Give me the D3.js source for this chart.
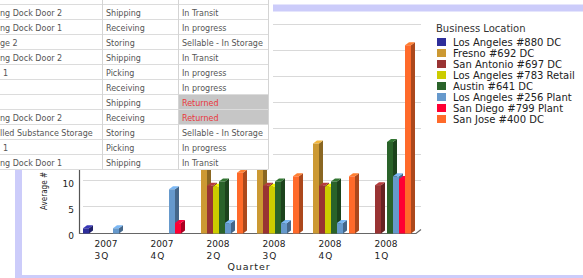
<!DOCTYPE html>
<html><head><meta charset="utf-8">
<script src="https://cdn.jsdelivr.net/npm/d3@7"></script>
<style>
html,body{margin:0;padding:0;background:#fff;}
svg{display:block;}
</style></head>
<body>
<svg id="c" width="583" height="278"></svg>
<script>
// ---- data ----
const years = ["2007", "2007", "2008", "2008", "2008", "2008"];
const quarters = ["3Q", "4Q", "2Q", "3Q", "4Q", "1Q"];
const seriesNames = ["Los Angeles #880 DC", "Fresno #692 DC", "San Antonio #697 DC", "Los Angeles #783 Retail",
  "Austin #641 DC", "Los Angeles #256 Plant", "San Diego #799 Plant", "San Jose #400 DC"];
const seriesColors = ["#2e2e9a", "#cc9933", "#993333", "#cccc00", "#2a632a", "#6699cc", "#ff0033", "#ff6a2a"];
const la880 = [1, null, null, null, null, null];
const fresno = [null, null, 19, 18, 17.3, null];
const sanAntonio = [null, null, 9.2, 9.2, 9.2, 9.3];
const la783 = [null, null, 9, 9, 9, null];
const austin = [null, null, 10, 10, 10, 17.6];
const la256 = [1, 8.5, 2, 2, 2, 11];
const sanDiego = [null, 2, null, null, null, 10.5];
const sanJose = [null, null, 11.7, 11, 11, 36.2];
const seriesValues = [la880, fresno, sanAntonio, la783, austin, la256, sanDiego, sanJose];
const yTicks = [0, 5, 10, 15, 20, 25, 30, 35, 40];
const legendTitle = "Business Location";
const yTitle = "Average #";
const xTitle = "Quarter";
// overlapping table (visible parts)
const tableCol1 = ["ng Dock Door 2", "ng Dock Door 1", "ge 2", "ng Dock Door 2", "1", "", "", "ng Dock Door 2",
  "lled Substance Storage", "1", "ng Dock Door 1"];
const tableCol2 = ["Shipping", "Receiving", "Storing", "Shipping", "Picking", "Receiving", "Shipping",
  "Receiving", "Storing", "Picking", "Shipping"];
const tableCol3 = ["In Transit", "In progress", "Sellable - In Storage", "In Transit", "In progress",
  "In progress", "Returned", "Returned", "Sellable - In Storage", "In progress", "In Transit"];

// ---- chart ----
const svg = d3.select("#c");
const font = "DejaVu Sans, Verdana, sans-serif";
const cats = years.map((y, i) => i);
const tableBottom = 169.5;

// panel border
svg.append("rect").attr("x", 18.5).attr("y", 8).attr("width", 700).attr("height", 270.5)
  .attr("fill", "#fff").attr("stroke", "#ccccfa").attr("stroke-width", 7);

const y = d3.scaleLinear().domain([0, 40]).range([233.5, 25.5]);
const x0 = d3.scaleBand().domain(cats).range([79, 415]).paddingInner(8 / 56).paddingOuter(4 / 56);
const x1 = d3.scaleBand().domain(seriesNames).range([0, x0.bandwidth()]);
const dx = 4, dy = 3, bw = 6;

// gridlines (back wall)
svg.append("g").selectAll("line").data(yTicks.filter(t => t > 0)).join("line")
  .attr("x1", 79 + dx).attr("x2", 421).attr("y1", d => Math.round(y(d)) - 0.5 - dy + 2).attr("y2", d => Math.round(y(d)) - 0.5 - dy + 2)
  .attr("stroke", "#d9d9d9").attr("stroke-width", 1);

// axes
svg.append("line").attr("x1", 79.5).attr("x2", 79.5).attr("y1", y(40)).attr("y2", y(0) + 0.5)
  .attr("stroke", "#555").attr("stroke-width", 1.2);
svg.append("path").attr("d", `M79,${y(0)}H416L421,${y(0) - 4}`)
  .attr("fill", "none").attr("stroke", "#666").attr("stroke-width", 1.2);

// y tick labels (those under the overlapping table are covered, so only visible ones are drawn)
svg.append("g").selectAll("text").data(yTicks.filter(t => y(t) > tableBottom)).join("text")
  .attr("x", 74).attr("y", d => y(d) + 5.5).attr("text-anchor", "end")
  .attr("font-family", font).attr("font-size", 9).attr("fill", "#222").text(d => d);

// bars (3D)
const flat = [];
seriesNames.forEach((s, si) => seriesValues[si].forEach((v, ci) => { if (v != null) flat.push({ s, si, ci, v }); }));
const bars = svg.append("g").selectAll("g").data(flat).join("g");
bars.each(function (d) {
  const g = d3.select(this);
  const xl = x0(d.ci) + x1(d.s);
  const yt = y(d.v), yb = y(0);
  const c = d3.color(seriesColors[d.si]);
  g.append("path").attr("d", `M${xl + bw},${yt}L${xl + bw + dx},${yt - dy}L${xl + bw + dx},${yb - dy}L${xl + bw},${yb}Z`)
    .attr("fill", c.darker(1.1));
  g.append("path").attr("d", `M${xl},${yt}L${xl + dx},${yt - dy}L${xl + bw + dx},${yt - dy}L${xl + bw},${yt}Z`)
    .attr("fill", c.brighter(0.5));
  g.append("rect").attr("x", xl).attr("y", yt).attr("width", bw).attr("height", yb - yt).attr("fill", c);
});

// x labels
const xl = svg.append("g");
cats.forEach(i => {
  const cx = x0(i) + x0.bandwidth() / 2 - 1;
  const t1 = xl.append("text").attr("x", cx).attr("y", 247).attr("text-anchor", "middle")
    .attr("font-family", font).attr("font-size", 9).attr("fill", "#222").text(years[i]);
  const w = t1.node().getComputedTextLength();
  xl.append("text").attr("x", cx - w / 2).attr("y", 259)
    .attr("font-family", font).attr("font-size", 9).attr("fill", "#222").attr("letter-spacing", 1).text(quarters[i]);
});
svg.append("text").attr("x", 249).attr("y", 270).attr("text-anchor", "middle")
  .attr("font-family", font).attr("font-size", 9.5).attr("letter-spacing", 0.9).attr("fill", "#222").text(xTitle);
svg.append("text").attr("transform", "translate(47,191) rotate(-90)").attr("text-anchor", "middle")
  .attr("font-family", font).attr("font-size", 9).attr("textLength", 38).attr("lengthAdjust", "spacingAndGlyphs")
  .attr("fill", "#222").text(yTitle);

// legend
const lg = svg.append("g");
lg.append("text").attr("x", 436).attr("y", 32).attr("font-family", font).attr("font-size", 10)
  .attr("fill", "#333").text(legendTitle);
seriesNames.forEach((s, i) => {
  const cy = 42 + i * 11;
  lg.append("rect").attr("x", 437).attr("y", cy - 4).attr("width", 9).attr("height", 8).attr("fill", seriesColors[i]);
  lg.append("text").attr("x", 453).attr("y", cy + 4).attr("font-family", font).attr("font-size", 10)
    .attr("fill", "#222").text(s);
});

// ---- overlapping table ----
const tb = svg.append("g");
const rowTop = i => 4 + i * 15;
tb.append("rect").attr("x", 0).attr("y", 0).attr("width", 273).attr("height", tableBottom).attr("fill", "#fff");
tb.append("rect").attr("x", 178).attr("y", rowTop(6)).attr("width", 90).attr("height", 30).attr("fill", "#c6c6c6");
tableCol1.forEach((t, i) => {
  const yy = rowTop(i) + 11.5;
  const t1 = tb.append("text").attr("x", t === "1" ? 3 : 0).attr("y", yy).attr("font-family", font).attr("font-size", 8)
    .attr("fill", "#555").text(t);
  const w = t1.node().getComputedTextLength();
  if (w > 94) t1.attr("font-size", 8 * 94 / w);
  tb.append("text").attr("x", 106).attr("y", yy).attr("font-family", font).attr("font-size", 8)
    .attr("fill", "#555").text(tableCol2[i]);
  tb.append("text").attr("x", 182).attr("y", yy).attr("font-family", font).attr("font-size", 8)
    .attr("fill", tableCol3[i] === "Returned" ? "#e8383c" : "#555").text(tableCol3[i]);
});
for (let i = 0; i <= 11; i++) {
  tb.append("line").attr("x1", 0).attr("x2", 268).attr("y1", rowTop(i) + 0.5).attr("y2", rowTop(i) + 0.5)
    .attr("stroke", "#dcdcdc");
}
[102.5, 178.5, 268.5].forEach(xx => tb.append("line").attr("x1", xx).attr("x2", xx).attr("y1", 0).attr("y2", tableBottom)
  .attr("stroke", "#d4d4d4"));
</script>
</body></html>
